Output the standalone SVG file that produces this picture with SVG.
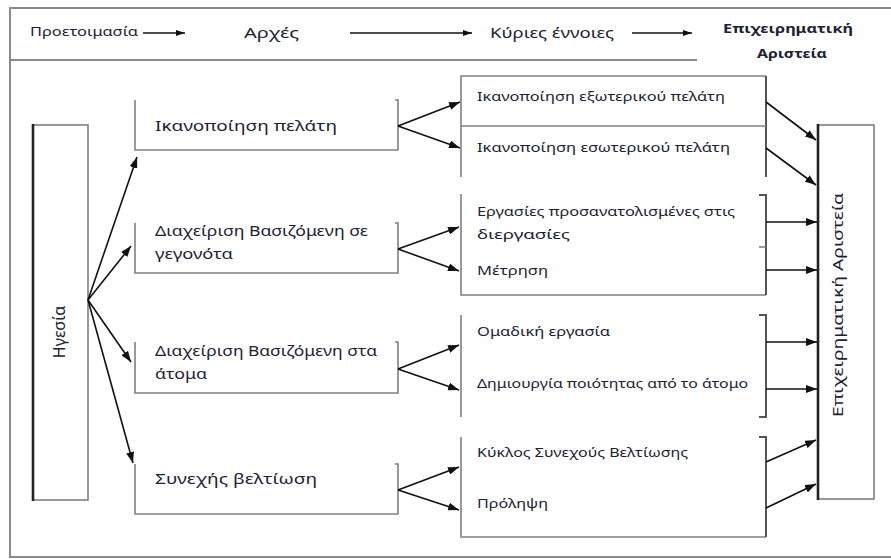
<svg xmlns="http://www.w3.org/2000/svg" width="891" height="559" viewBox="0 0 891 559">
<defs>
<marker id="ah" markerUnits="userSpaceOnUse" markerWidth="11" markerHeight="8" refX="11" refY="4" orient="auto"><path d="M0,0 L11,4 L0,8 z" fill="#111"/></marker>
<marker id="ahs" markerUnits="userSpaceOnUse" markerWidth="9" markerHeight="6" refX="9" refY="3" orient="auto"><path d="M0,0 L9,3 L0,6 z" fill="#111"/></marker>
<style>
.frame{fill:none;stroke:#8a8a8a;stroke-width:2}
.box{fill:none;stroke:#808080;stroke-width:1.6}
.brk{fill:none;stroke:#555;stroke-width:2}
.thick{fill:none;stroke:#222;stroke-width:2.6}
.conn{fill:none;stroke:#111;stroke-width:1.6;marker-end:url(#ah)}
.hconn{fill:none;stroke:#111;stroke-width:1.3;marker-end:url(#ahs)}
.t{font-family:"Noto Sans","DejaVu Sans",sans-serif;fill:#1c2233}
.l{font-size:15px}
.m{font-size:12.5px}
.h{font-size:12.5px}
</style>
</defs>
<rect width="891" height="559" fill="#fff"/>
<g id="frame">
<path class="frame" d="M891,8 H10 V557 H891"/>
<path class="frame" d="M10,60 H697"/>
</g>
<g id="header">
<text class="t h" x="30" y="36" textLength="108" lengthAdjust="spacingAndGlyphs">Προετοιμασία</text>
<text class="t" x="244" y="38" font-size="15" textLength="55" lengthAdjust="spacingAndGlyphs">Αρχές</text>
<text class="t" x="490" y="38" font-size="14" textLength="124" lengthAdjust="spacingAndGlyphs">Κύριες έννοιες</text>
<text class="t" x="788" y="33" font-size="12.5" font-weight="bold" text-anchor="middle" textLength="130" lengthAdjust="spacingAndGlyphs">Επιχειρηματική</text>
<text class="t" x="792" y="58" font-size="12.5" font-weight="bold" text-anchor="middle" textLength="70" lengthAdjust="spacingAndGlyphs">Αριστεία</text>
</g>
<g id="leader">
<rect x="33" y="125" width="55" height="375" class="box"/>
<path class="thick" d="M33,124 V501"/>
<text class="t" font-size="16" transform="translate(65,332) rotate(-90)" text-anchor="middle">Ηγεσία</text>
</g>
<g id="excellence">
<rect x="818" y="125" width="56" height="374" class="box"/>
<path class="thick" d="M818,124 V500"/>
<text class="t" font-size="15" transform="translate(843,305) rotate(-90)" text-anchor="middle" textLength="224" lengthAdjust="spacingAndGlyphs">Επιχειρηματική Αριστεία</text>
</g>
<g id="p1">
<path class="box" d="M135,100 V150 H398 V100 H395"/>
<text class="t l" x="155" y="131" textLength="182" lengthAdjust="spacingAndGlyphs">Ικανοποίηση πελάτη</text>
</g>
<g id="p2">
<path class="box" d="M135,223 V273 H398 V223 H395"/>
<text class="t l" x="155" y="236" textLength="213" lengthAdjust="spacingAndGlyphs">Διαχείριση Βασιζόμενη σε</text>
<text class="t l" x="155" y="259" textLength="78" lengthAdjust="spacingAndGlyphs">γεγονότα</text>
</g>
<g id="p3">
<path class="box" d="M135,342 V393 H398 V342 H395"/>
<text class="t l" x="155" y="356" textLength="222" lengthAdjust="spacingAndGlyphs">Διαχείριση Βασιζόμενη στα</text>
<text class="t l" x="155" y="379" textLength="52" lengthAdjust="spacingAndGlyphs">άτομα</text>
</g>
<g id="p4">
<path class="box" d="M135,464 V514 H398 V464 H395"/>
<text class="t l" x="155" y="484" textLength="162" lengthAdjust="spacingAndGlyphs">Συνεχής βελτίωση</text>
</g>
<g id="c1">
<path class="box" d="M461,177 V76 H766"/>
<path class="brk" d="M766,76 V177"/>
<path class="box" d="M461,126 H766"/>
<text class="t m" x="477" y="101" textLength="248" lengthAdjust="spacingAndGlyphs">Ικανοποίηση  εξωτερικού πελάτη</text>
<text class="t m" x="477" y="152" textLength="253" lengthAdjust="spacingAndGlyphs">Ικανοποίηση  εσωτερικού πελάτη</text>
</g>
<g id="c2">
<path class="box" d="M461,194 V295 H766"/>
<path class="brk" d="M766,295 V195 H759"/>
<path class="box" d="M759,247 H766"/>
<text class="t m" x="477" y="216" textLength="258" lengthAdjust="spacingAndGlyphs">Εργασίες προσανατολισμένες στις</text>
<text class="t m" x="477" y="239" textLength="93" lengthAdjust="spacingAndGlyphs">διεργασίες</text>
<text class="t m" x="477" y="275" textLength="71" lengthAdjust="spacingAndGlyphs">Μέτρηση</text>
</g>
<g id="c3">
<path class="box" d="M461,315 V417"/>
<path class="brk" d="M759,315 H766 V417 H759"/>
<text class="t m" x="477" y="336" textLength="133" lengthAdjust="spacingAndGlyphs">Ομαδική εργασία</text>
<text class="t m" x="477" y="388" textLength="271" lengthAdjust="spacingAndGlyphs">Δημιουργία ποιότητας από το άτομο</text>
</g>
<g id="c4">
<path class="box" d="M461,437 V537 H766"/>
<path class="brk" d="M766,537 V437 H759"/>
<text class="t m" x="477" y="457" textLength="211" lengthAdjust="spacingAndGlyphs">Κύκλος Συνεχούς Βελτίωσης</text>
<text class="t m" x="477" y="508" textLength="71" lengthAdjust="spacingAndGlyphs">Πρόληψη</text>
</g>
<g id="connectors">
<path class="hconn" d="M143,33 H185"/>
<path class="hconn" d="M350,33 H472"/>
<path class="hconn" d="M632,33 H692"/>
<path class="conn" d="M88,300 L137,157"/>
<path class="conn" d="M88,300 L131,246"/>
<path class="conn" d="M88,300 L131,362"/>
<path class="conn" d="M88,300 L133,463"/>
<path class="conn" d="M398,126 L460,102"/>
<path class="conn" d="M398,126 L460,148"/>
<path class="conn" d="M398,249 L459,227"/>
<path class="conn" d="M398,249 L459,271"/>
<path class="conn" d="M398,369 L459,345"/>
<path class="conn" d="M398,369 L459,390"/>
<path class="conn" d="M398,490 L459,467"/>
<path class="conn" d="M398,490 L459,510"/>
<path class="conn" d="M766,102 L816,140"/>
<path class="conn" d="M766,148 L816,185"/>
<path class="conn" d="M766,222 H817"/>
<path class="conn" d="M766,270 H817"/>
<path class="conn" d="M766,342 H817"/>
<path class="conn" d="M766,389 H817"/>
<path class="conn" d="M766,462 L816,440"/>
<path class="conn" d="M766,508 L816,484"/>
</g>
</svg>
